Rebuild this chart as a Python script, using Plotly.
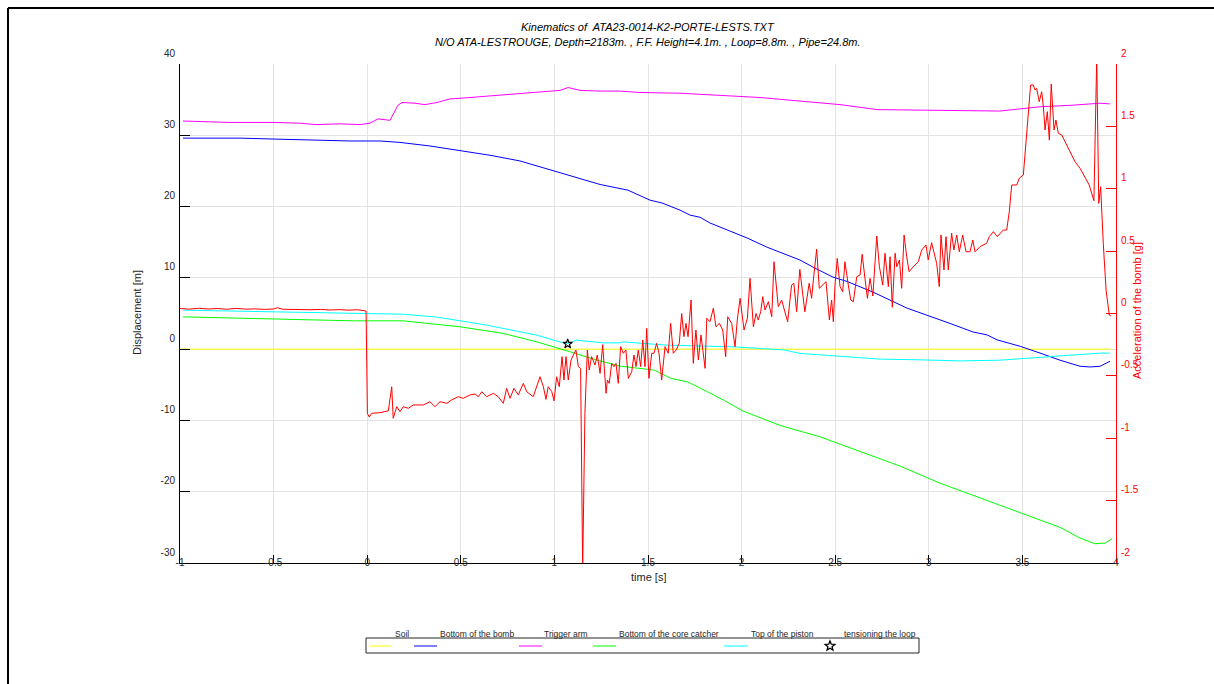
import math
import plotly.graph_objects as go

# ---------------- data ----------------
soil_t = [-1.0, 3.97]
soil_d = [0.0, 0.0]

bomb_t = [-0.984, -0.679, -0.466, -0.252, -0.092, 0.068, 0.175, 0.335, 0.496, 0.656, 0.816, 0.950,
          1.030, 1.137, 1.244, 1.393, 1.511, 1.575, 1.671, 1.725, 1.778, 1.831, 1.954, 2.029, 2.136,
          2.243, 2.312, 2.382, 2.488, 2.563, 2.633, 2.702, 2.884, 2.991, 3.114, 3.237, 3.311, 3.365,
          3.488, 3.594, 3.701, 3.808, 3.861, 3.915, 3.968]
bomb_d = [29.6, 29.6, 29.45, 29.3, 29.2, 29.2, 29.0, 28.5, 27.9, 27.2, 26.4, 25.4,
          24.8, 24.0, 23.1, 22.3, 20.9, 20.5, 19.5, 18.8, 18.5, 17.7, 16.4, 15.6, 14.3,
          13.2, 12.5, 11.5, 10.1, 9.5, 8.7, 8.0, 5.75, 4.8, 3.6, 2.4, 2.0, 1.3,
          0.4, -0.55, -1.55, -2.4, -2.5, -2.4, -1.7]

trig_t = [-0.984, -0.733, -0.498, -0.359, -0.279, -0.146, -0.038, 0.015, 0.058, 0.122, 0.164, 0.186,
          0.255, 0.309, 0.373, 0.442, 0.549, 0.656, 0.763, 0.870, 0.977, 1.031, 1.073, 1.137, 1.244,
          1.350, 1.457, 1.671, 1.885, 2.098, 2.312, 2.526, 2.724, 3.007, 3.130, 3.380, 3.487, 3.594,
          3.754, 3.915, 3.968]
trig_d = [32.0, 31.8, 31.8, 31.7, 31.5, 31.6, 31.5, 31.7, 32.3, 32.1, 34.2, 34.6,
          34.5, 34.3, 34.6, 35.1, 35.3, 35.5, 35.8, 36.0, 36.2, 36.3, 36.7, 36.3, 36.2,
          36.2, 36.0, 35.9, 35.6, 35.3, 34.8, 34.3, 33.6, 33.5, 33.4, 33.4, 33.7, 34.0,
          34.2, 34.5, 34.4]

core_t = [-0.984, -0.610, -0.075, 0.193, 0.497, 0.728, 0.906, 1.085, 1.227, 1.352, 1.534, 1.623,
          1.712, 1.819, 1.908, 2.000, 2.205, 2.419, 2.633, 2.846, 3.060, 3.274, 3.381, 3.488,
          3.595, 3.701, 3.808, 3.888, 3.942, 3.979]
core_d = [4.53, 4.3, 3.97, 3.97, 3.13, 2.2, 1.02, -0.38, -1.54, -2.38, -2.95, -4.1,
          -4.6, -6.0, -7.2, -8.6, -10.7, -12.3, -14.3, -16.4, -18.8, -20.9, -21.9, -23.0,
          -24.0, -25.0, -26.5, -27.3, -27.2, -26.6]

pist_t = [-0.983, -0.519, -0.003, 0.193, 0.371, 0.639, 0.906, 1.030, 1.074, 1.118, 1.262, 1.351,
          1.367, 1.599, 1.955, 2.223, 2.312, 2.633, 2.740, 2.954, 3.168, 3.381, 3.594, 3.755,
          3.915, 3.968]
pist_d = [5.47, 5.23, 5.0, 4.9, 4.5, 3.37, 1.96, 1.0, 0.8, 1.26, 0.88, 0.88,
          1.02, 0.56, 0.33, -0.1, -0.6, -1.16, -1.4, -1.5, -1.65, -1.55, -1.1, -0.85,
          -0.56, -0.56]

tension_t = [1.071]
tension_d = [0.74]

accel_t = [-1.0, -0.95, -0.9, -0.85, -0.8, -0.75, -0.7, -0.65, -0.6, -0.55, -0.5, -0.48, -0.45,
           -0.4, -0.35, -0.3, -0.25, -0.2, -0.15, -0.1, -0.05, -0.006,
           0.001, 0.011, 0.024, 0.068, 0.113, 0.131, 0.139, 0.158, 0.175, 0.193, 0.220, 0.246,
           0.300, 0.335, 0.362, 0.389, 0.425, 0.451, 0.487, 0.513, 0.549, 0.576, 0.594, 0.612,
           0.638, 0.674, 0.700, 0.727, 0.745, 0.763, 0.784, 0.807, 0.834, 0.852, 0.887, 0.923,
           0.941, 0.955, 0.967, 0.986, 0.998, 1.012, 1.026, 1.041, 1.051, 1.062, 1.074, 1.089,
           1.101, 1.115, 1.128, 1.140, 1.151, 1.163, 1.176, 1.186, 1.199, 1.217, 1.229, 1.244,
           1.258, 1.276, 1.283, 1.293, 1.306, 1.318, 1.329, 1.341, 1.354, 1.368, 1.382, 1.395,
           1.413, 1.425, 1.436, 1.448, 1.461, 1.472, 1.484, 1.493, 1.505, 1.520, 1.532, 1.546,
           1.559, 1.573, 1.591, 1.608, 1.621, 1.635, 1.650, 1.667, 1.680, 1.692, 1.703, 1.714,
           1.730, 1.742, 1.756, 1.769, 1.783, 1.805, 1.814, 1.831, 1.849, 1.863, 1.881, 1.899,
           1.915, 1.926, 1.947, 1.965, 1.977, 1.992, 2.013, 2.031, 2.045, 2.063, 2.077, 2.089,
           2.102, 2.113, 2.125, 2.143, 2.161, 2.173, 2.196, 2.214, 2.231, 2.246, 2.267, 2.279,
           2.294, 2.311, 2.324, 2.338, 2.361, 2.374, 2.386, 2.401, 2.415, 2.433, 2.451, 2.469,
           2.481, 2.490, 2.499, 2.511, 2.526, 2.540, 2.552, 2.570, 2.583, 2.597, 2.615, 2.633,
           2.644, 2.660, 2.672, 2.686, 2.701, 2.722, 2.736, 2.754, 2.766, 2.784, 2.793, 2.805,
           2.820, 2.829, 2.843, 2.855, 2.868, 2.882, 2.895, 2.917, 2.944, 2.962, 2.985, 2.997,
           3.015, 3.042, 3.056, 3.065, 3.081, 3.092, 3.104, 3.122, 3.134, 3.149, 3.163, 3.181,
           3.199, 3.220, 3.235, 3.247, 3.274, 3.309, 3.323, 3.345, 3.366, 3.398, 3.416, 3.430,
           3.443, 3.470, 3.483, 3.505, 3.523, 3.544, 3.558, 3.567, 3.576, 3.590, 3.603, 3.612,
           3.621, 3.633, 3.644, 3.654, 3.669, 3.679, 3.692, 3.710, 3.728, 3.745, 3.763, 3.781,
           3.808, 3.835, 3.857, 3.882, 3.897, 3.908, 3.918, 3.932, 3.947, 3.964, 3.973]
accel_g = [0.040, 0.035, 0.042, 0.036, 0.040, 0.034, 0.041, 0.035, 0.037, 0.033, 0.036, 0.046, 0.034,
           0.032, 0.035, 0.030, 0.033, 0.028, 0.031, 0.027, 0.030, 0.020,
           -0.80, -0.83, -0.80, -0.795, -0.78, -0.587, -0.84, -0.747, -0.787, -0.747, -0.76, -0.733,
           -0.733, -0.707, -0.747, -0.707, -0.72, -0.693, -0.667, -0.68, -0.653, -0.645, -0.667, -0.627,
           -0.667, -0.64, -0.667, -0.72, -0.60, -0.68, -0.60, -0.653, -0.56, -0.627, -0.667, -0.507,
           -0.587, -0.688, -0.587, -0.627, -0.70, -0.507, -0.587, -0.346, -0.533, -0.346, -0.533, -0.373,
           -0.333, -0.293, -0.426, -0.44, -2.05, -0.80, -0.293, -0.453, -0.346, -0.413, -0.333, -0.48,
           -0.25, -0.64, -0.533, -0.56, -0.40, -0.426, -0.40, -0.56, -0.266, -0.319, -0.293, -0.52,
           -0.467, -0.333, -0.426, -0.293, -0.426, -0.212, -0.426, -0.119, -0.52, -0.319, -0.319, -0.239,
           -0.319, -0.533, -0.266, -0.319, -0.079, -0.319, -0.293, -0.239, 0.0, -0.186, -0.079, -0.186,
           0.108, -0.40, -0.132, -0.373, -0.172, -0.44, -0.038, -0.066, 0.042, -0.106, -0.079, -0.132,
           -0.346, -0.026, -0.079, -0.266, -0.052, 0.122, -0.132, -0.038, 0.282, -0.106, 0.0, -0.052,
           0.014, 0.135, 0.028, 0.095, -0.026, 0.415, 0.055, 0.108, 0.014, -0.066, 0.228, 0.242,
           0.014, 0.354, 0.188, 0.014, 0.242, 0.122, 0.309, 0.515, 0.202, 0.228, 0.255, -0.052,
           0.108, -0.066, 0.228, 0.442, 0.215, 0.175, 0.415, 0.228, 0.108, 0.095, 0.295, 0.309,
           0.475, 0.269, 0.122, 0.282, 0.14, 0.621, 0.375, 0.228, 0.483, 0.215, 0.455, 0.05,
           0.483, 0.375, 0.429, 0.202, 0.629, 0.455, 0.335, 0.375, 0.415, 0.509, 0.549, 0.429,
           0.568, 0.402, 0.215, 0.629, 0.349, 0.616, 0.349, 0.643, 0.509, 0.629, 0.495, 0.629,
           0.495, 0.495, 0.589, 0.495, 0.536, 0.563, 0.616, 0.656, 0.616, 0.669, 0.669, 0.816,
           1.030, 1.030, 1.084, 1.110, 1.417, 1.832, 1.832, 1.792, 1.805, 1.698, 1.778, 1.658,
           1.471, 1.618, 1.390, 1.840, 1.471, 1.551, 1.444, 1.431, 1.377, 1.324, 1.271, 1.217,
           1.164, 1.084, 1.030, 0.904, 2.05, 0.883, 1.016, 0.563, 0.188, -0.012, -0.02]

x_ticks = [-1, -0.5, 0, 0.5, 1, 1.5, 2, 2.5, 3, 3.5, 4]
x_ticklabels = ["-1", "-0.5", "0", "0.5", "1", "1.5", "2", "2.5", "3", "3.5", "4"]
y_ticks = [-30, -20, -10, 0, 10, 20, 30, 40]
y_ticklabels = ["-30", "-20", "-10", "0", "10", "20", "30", "40"]
y2_ticks = [-2, -1.5, -1, -0.5, 0, 0.5, 1, 1.5, 2]
y2_ticklabels = ["-2", "-1.5", "-1", "-0.5", "0", "0.5", "1", "1.5", "2"]

legend_names = ["Soil", "Bottom of the bomb", "Trigger arm", "Bottom of the core catcher",
                "Top of the piston", "tensioning the loop"]

# ---------------- styling ----------------
FONT = "Liberation Sans, Arial, sans-serif"
W, H = 1214, 684
L, R, T, B = 180, 1116, 64, 563  # plot area in pixels


def px(xp):
    return (xp - L) / (R - L)


def py(yp):
    return (B - yp) / (B - T)


YELLOW = "#ffff00"
BLUE = "#0000ff"
MAGENTA = "#ff00ff"
GREEN = "#00ff00"
CYAN = "#00ffff"
RED = "#ff0000"

fig = go.Figure()
fig.add_trace(go.Scatter(x=soil_t, y=soil_d, mode="lines", line=dict(color=YELLOW, width=1), name=legend_names[0]))
fig.add_trace(go.Scatter(x=bomb_t, y=bomb_d, mode="lines", line=dict(color=BLUE, width=1), name=legend_names[1]))
fig.add_trace(go.Scatter(x=trig_t, y=trig_d, mode="lines", line=dict(color=MAGENTA, width=1), name=legend_names[2]))
fig.add_trace(go.Scatter(x=core_t, y=core_d, mode="lines", line=dict(color=GREEN, width=1), name=legend_names[3]))
fig.add_trace(go.Scatter(x=pist_t, y=pist_d, mode="lines", line=dict(color=CYAN, width=1), name=legend_names[4]))
fig.add_trace(go.Scatter(x=accel_t, y=accel_g, mode="lines", line=dict(color=RED, width=1),
                         name="Acceleration", yaxis="y2"))
fig.add_trace(go.Scatter(x=tension_t, y=tension_d, mode="markers",
                         marker=dict(symbol="star-open", size=7, color="black", line=dict(width=1.2, color="black")),
                         name=legend_names[5]))

TICKFONT = dict(family=FONT, size=10, color="#262626")

fig.update_layout(
    width=W, height=H, autosize=False,
    margin=dict(l=L, r=W - R, t=T, b=H - B, pad=0),
    paper_bgcolor="white", plot_bgcolor="white",
    showlegend=False,
    font=dict(family=FONT, size=10, color="#262626"),
    xaxis=dict(range=[-1, 4], tickvals=x_ticks, ticktext=x_ticklabels, showgrid=True,
               gridcolor="#e3e3e3", gridwidth=1, zeroline=False, showline=True, linecolor="black",
               linewidth=1, ticks="inside", ticklen=8, tickcolor="black", tickfont=TICKFONT,
               ticklabelstandoff=-10),
    yaxis=dict(range=[-30, 40], tickvals=y_ticks, ticktext=y_ticklabels, showgrid=True,
               gridcolor="#e3e3e3", gridwidth=1,
               zeroline=False, showline=True, linecolor="black", linewidth=1, ticks="inside",
               ticklen=10, tickcolor="black", tickfont=TICKFONT, ticklabelshift=-11,
               ticklabelstandoff=2),
    yaxis2=dict(range=[-2, 2], tickvals=y2_ticks, ticktext=y2_ticklabels, overlaying="y", side="right",
                showgrid=False, zeroline=False, showline=True, linecolor=RED, linewidth=1,
                ticks="inside", ticklen=10, tickcolor=RED,
                tickfont=dict(family=FONT, size=10, color=RED), ticklabelshift=-11,
                ticklabelstandoff=2),
)

ann = []
# titles
ann.append(dict(text="<i>Kinematics of  ATA23-0014-K2-PORTE-LESTS.TXT</i>", x=px(648), y=py(27),
                xref="paper", yref="paper", showarrow=False, font=dict(family=FONT, size=11, color="black"),
                xanchor="center", yanchor="middle"))
ann.append(dict(text="<i>N/O ATA-LESTROUGE, Depth=2183m. , F.F. Height=4.1m. , Loop=8.8m. , Pipe=24.8m.</i>",
                x=px(648), y=py(42), xref="paper", yref="paper", showarrow=False,
                font=dict(family=FONT, size=11, color="black"), xanchor="center", yanchor="middle"))
ann.append(dict(text="Displacement [m]", x=px(137), y=py(313), xref="paper", yref="paper", showarrow=False,
                textangle=-90, font=dict(family=FONT, size=11, color="#262626"), xanchor="center", yanchor="middle"))
ann.append(dict(text="time [s]", x=px(648), y=py(577), xref="paper", yref="paper", showarrow=False,
                font=dict(family=FONT, size=11, color="#262626"), xanchor="center", yanchor="middle"))
ann.append(dict(text="Acceleration of the bomb [g]", x=px(1137), y=py(311), xref="paper", yref="paper",
                showarrow=False, textangle=-90, font=dict(family=FONT, size=11, color=RED),
                xanchor="center", yanchor="middle"))

# custom legend (MATLAB-style)
leg_label_x = [402, 477, 566, 669, 782, 880]
leg_colors = [YELLOW, BLUE, MAGENTA, GREEN, CYAN]
leg_sample_x = [(369, 392), (414, 437), (519, 542), (593, 616), (724, 748)]
for name, lx in zip(legend_names, leg_label_x):
    ann.append(dict(text=name, x=px(lx), y=py(634), xref="paper", yref="paper", showarrow=False,
                    font=dict(family=FONT, size=8.5, color="#262626"), xanchor="center", yanchor="middle"))

shapes = []
shapes.append(dict(type="rect", xref="paper", yref="paper", x0=px(366), x1=px(919), y0=py(653), y1=py(638),
                   line=dict(color="#262626", width=1), fillcolor="rgba(0,0,0,0)", layer="above"))
for (a, b), c in zip(leg_sample_x, leg_colors):
    shapes.append(dict(type="line", xref="paper", yref="paper", x0=px(a), x1=px(b), y0=py(646), y1=py(646),
                       line=dict(color=c, width=1)))

# legend star symbol (open star outline)
cx, cy, ro, ri = 830, 646, 5.0, 2.2
pts = []
for k in range(10):
    ang = -math.pi / 2 + k * math.pi / 5
    r = ro if k % 2 == 0 else ri
    pts.append((px(cx + r * math.cos(ang)), py(cy + r * math.sin(ang))))
path = "M " + " L ".join(f"{a:.5f},{b:.5f}" for a, b in pts) + " Z"
shapes.append(dict(type="path", xref="paper", yref="paper", path=path,
                   line=dict(color="black", width=1.3), fillcolor="white"))

# figure window frame
shapes.append(dict(type="line", xref="paper", yref="paper", x0=px(8), x1=px(1300), y0=py(8), y1=py(8),
                   line=dict(color="black", width=2)))
shapes.append(dict(type="line", xref="paper", yref="paper", x0=px(8), x1=px(8), y0=py(8), y1=py(720),
                   line=dict(color="black", width=2)))

fig.update_layout(annotations=ann, shapes=shapes)
fig.write_html("out.html")
